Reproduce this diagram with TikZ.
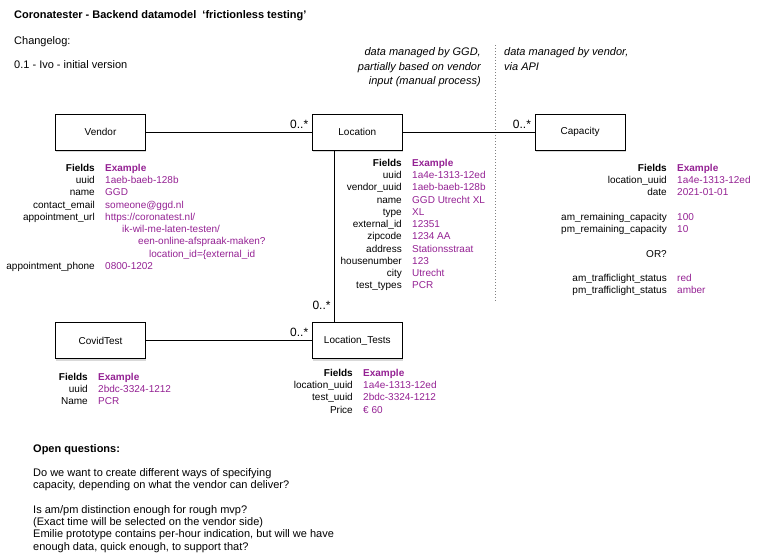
\documentclass[tikz,border=0pt]{standalone}
\usepackage{fontspec}
\setmainfont{Liberation Sans}
\usetikzlibrary{
positioning,
shadows
}
\tikzset{>=latex}
\definecolor{plum}{RGB}{148,33,147}

\begin{document}
\begin{tikzpicture}[x=1pt, y=-1pt, node distance=1cm,
	every node/.style={font=\fontsize{10}{12.25}\selectfont},
	entity/.style={draw, line width=.8pt, fill=white, minimum width=90pt, minimum height=36pt,
		drop shadow={shadow xshift=.6pt, shadow yshift=-1.8pt, opacity=.3}},
	mult/.style={font=\fontsize{12}{14}\selectfont},
	fieldname/.style={anchor=north east, align=right, inner sep=0pt},
	fieldval/.style={anchor=north west, align=left, inner sep=0pt, text=plum},
	note/.style={anchor=north west, align=left, inner sep=0pt, font=\fontsize{11}{12.25}\selectfont}]
	\useasboundingbox (0,0) rectangle (758,558);
	
	% header
	\node[note, font=\fontsize{11}{13}\selectfont\bfseries] (title) at (14,10) {Coronatester - Backend datamodel\ \ `frictionless testing'};
	\node[note] (changelog) at (14,36) {Changelog:};
	\node[note] (version) at (14,60) {0.1 - Ivo - initial version};
	
	% who owns which data
	\node[note, anchor=north east, align=right, font=\fontsize{11}{14.5}\selectfont\itshape] (ggdnote) at (481,47.5) {data managed by GGD,\\partially based on vendor\\input (manual process)};
	\node[note, font=\fontsize{11}{14.5}\selectfont\itshape] (vendornote) at (504,47.5) {data managed by vendor,\\via API};
	\coordinate (divtop) at (495,45);
	\coordinate (divbot) at (495,302);
	\draw[line width=.6pt, gray, dash pattern=on .7pt off 2.3pt] (divtop) -- (divbot);
	
	% entities
	\node[entity] (vendor) at (100.5,132) {Vendor};
	\node[entity, right=166pt of vendor] (location) {Location};
	\node[entity, right=132pt of location] (capacity) {Capacity};
	\node[entity, below=172pt of location] (loctests) {Location\_Tests};
	\node[entity, left=166pt of loctests] (covidtest) {CovidTest};
	
	\draw[line width=.8pt] (vendor) -- node[mult, pos=1, above left] (vendormult) {0..*} (location);
	\draw[line width=.8pt] (location) -- node[mult, pos=1, above left] (capacitymult) {0..*} (capacity);
	\draw[line width=.8pt] ([xshift=-23pt]location.south) -- node[mult, pos=.9, left] (loctestsmult) {0..*} ([xshift=-23pt]loctests.north);
	\draw[line width=.8pt] (covidtest) -- node[mult, pos=1, above left] (covidmult) {0..*} (loctests);
	
	% fields
	\node[fieldname] (vendorkeys) at (95,164) {\textbf{Fields}\\uuid\\name\\contact\_email\\appointment\_url\\\mbox{}\\\mbox{}\\\mbox{}\\appointment\_phone};
	\node[fieldval] (vendorvals) at (105,164) {\textbf{Example}\\1aeb-baeb-128b\\GGD\\someone@ggd.nl\\https://coronatest.nl/\\\hspace*{17pt}ik-wil-me-laten-testen/\\\hspace*{33pt}een-online-afspraak-maken?\\\hspace*{44pt}location\_id=\{external\_id\\0800-1202};
	
	\node[fieldname] (locationkeys) at (402,159) {\textbf{Fields}\\uuid\\vendor\_uuid\\name\\type\\external\_id\\zipcode\\address\\housenumber\\city\\test\_types};
	\node[fieldval] (locationvals) at (412,159) {\textbf{Example}\\1a4e-1313-12ed\\1aeb-baeb-128b\\GGD Utrecht XL\\XL\\12351\\1234 AA\\Stationsstraat\\123\\Utrecht\\PCR};
	
	\node[fieldname] (capacitykeys) at (667,164) {\textbf{Fields}\\location\_uuid\\date\\\mbox{}\\am\_remaining\_capacity\\pm\_remaining\_capacity\\\mbox{}\\OR?\\\mbox{}\\am\_trafficlight\_status\\pm\_trafficlight\_status};
	\node[fieldval] (capacityvals) at (677,164) {\textbf{Example}\\1a4e-1313-12ed\\2021-01-01\\\mbox{}\\100\\10\\\mbox{}\\\mbox{}\\\mbox{}\\red\\amber};
	
	\node[fieldname] (covidkeys) at (88,373) {\textbf{Fields}\\uuid\\Name};
	\node[fieldval] (covidvals) at (98,373) {\textbf{Example}\\2bdc-3324-1212\\PCR};
	
	\node[fieldname] (loctestskeys) at (353,369) {\textbf{Fields}\\location\_uuid\\test\_uuid\\Price};
	\node[fieldval] (loctestsvals) at (363,369) {\textbf{Example}\\1a4e-1313-12ed\\2bdc-3324-1212\\€ 60};
	
	% open questions
	\node[note] (questions) at (33,444) {\textbf{Open questions:}\\\mbox{}\\Do we want to create different ways of specifying\\capacity, depending on what the vendor can deliver?\\\mbox{}\\Is am/pm distinction enough for rough mvp?\\(Exact time will be selected on the vendor side)\\Emilie prototype contains per-hour indication, but will we have\\enough data, quick enough, to support that?};
\end{tikzpicture}
\end{document}
